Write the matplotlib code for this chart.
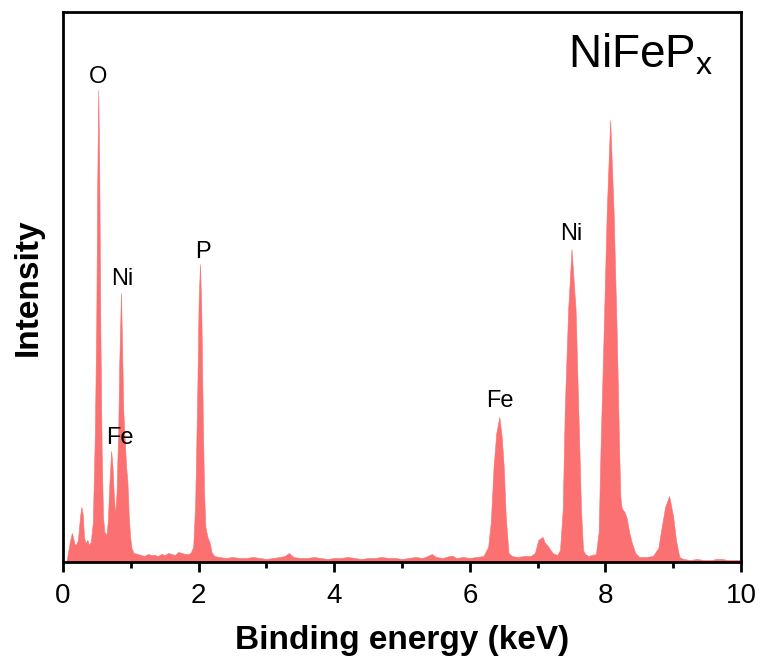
import matplotlib.pyplot as plt
import numpy as np

plt.rcParams['font.family'] = ['Liberation Sans', 'DejaVu Sans']
plt.rcParams['mathtext.fontset'] = 'custom'
plt.rcParams['mathtext.rm'] = 'Liberation Sans'

# EDS spectrum (keV, counts in arbitrary units)
energy = [0.05, 0.07, 0.10, 0.13, 0.15, 0.17, 0.19, 0.22, 0.25, 0.27, 0.29, 0.31, 0.33, 0.36, 0.38, 0.41,
          0.44, 0.47, 0.49, 0.505, 0.52, 0.535, 0.55, 0.57, 0.59, 0.61, 0.64, 0.66, 0.685, 0.71, 0.73,
          0.75, 0.77, 0.79, 0.815, 0.83, 0.855, 0.875, 0.89, 0.90, 0.93, 0.95, 0.97, 0.99, 1.01, 1.04,
          1.10, 1.15, 1.20, 1.25, 1.30, 1.35, 1.40, 1.45, 1.50, 1.55, 1.60, 1.65, 1.70, 1.75, 1.80, 1.85,
          1.88, 1.92, 1.95, 1.98, 2.00, 2.02, 2.04, 2.06, 2.08, 2.10, 2.13, 2.16, 2.19, 2.23,
          2.30, 2.40, 2.50, 2.60, 2.70, 2.80, 2.90, 3.00, 3.10, 3.20, 3.27, 3.33, 3.40, 3.50, 3.60, 3.70,
          3.80, 3.90, 4.00, 4.10, 4.20, 4.30, 4.40, 4.50, 4.60, 4.70, 4.80, 4.90, 5.00, 5.10, 5.20, 5.30,
          5.38, 5.44, 5.50, 5.60, 5.70, 5.75, 5.80, 5.90, 6.00, 6.10, 6.20,
          6.27, 6.31, 6.35, 6.39, 6.435, 6.47, 6.50, 6.53, 6.57, 6.62, 6.70, 6.80, 6.90,
          6.96, 7.01, 7.05, 7.075, 7.10, 7.16, 7.22, 7.29, 7.33, 7.37, 7.40, 7.45, 7.50, 7.56, 7.60,
          7.64, 7.67, 7.70, 7.75, 7.80, 7.86, 7.90, 7.93, 7.97, 8.02, 8.07, 8.12, 8.17, 8.20, 8.22,
          8.24, 8.28, 8.31, 8.35, 8.39, 8.44, 8.50, 8.60, 8.70, 8.78, 8.83, 8.88, 8.94, 9.00, 9.04,
          9.09, 9.15, 9.25, 9.35, 9.45, 9.56, 9.64, 9.72, 9.80, 9.90, 10.0]
counts = [0, 8, 20, 29, 24, 18, 17, 22, 45, 55, 48, 25, 19, 22, 17, 20,
          40, 130, 236, 380, 472, 390, 236, 110, 45, 30, 27, 40, 80, 111, 95,
          65, 48, 70, 135, 200, 269, 200, 150, 135, 96, 80, 45, 25, 14, 9,
          8, 7, 6, 8, 7, 7, 6, 8, 7, 9, 8, 7, 10, 9, 8, 8,
          9, 15, 60, 170, 260, 298, 250, 150, 70, 35, 25, 20, 10, 6,
          5, 4, 5, 4, 4, 5, 4, 3, 4, 5, 6, 9, 5, 4, 4, 5,
          4, 3, 4, 4, 5, 4, 3, 4, 4, 5, 4, 4, 3, 4, 5, 4,
          6, 8, 5, 4, 6, 6, 4, 5, 4, 5, 6,
          15, 40, 95, 129, 145, 125, 95, 45, 9, 6, 5, 6, 6,
          9, 22, 24, 25, 20, 15, 9, 7, 12, 52, 152, 252, 313, 252, 152,
          52, 12, 8, 6, 7, 8, 30, 119, 219, 352, 442, 352, 219, 119, 65,
          54, 50, 45, 30, 19, 9, 5, 5, 6, 14, 35, 55, 66, 45, 22,
          5, 3, 2, 3, 2, 2, 3, 3, 2, 2, 2]

peak_labels = ['O', 'Ni', 'Fe', 'P', 'Fe', 'Ni']
label_x = [0.516, 0.87, 0.84, 2.065, 6.445, 7.49]
label_y = [485, 283, 124, 310, 161, 328]

fig = plt.figure(figsize=(7.63, 6.68), dpi=100)
ax = fig.add_axes([0.0826, 0.1587, 0.8886, 0.8233])

ax.fill_between(energy, counts, 0, color='#fb7070', linewidth=0.4, edgecolor='#fb7070')

for t, x, y in zip(peak_labels, label_x, label_y):
    ax.text(x, y, t, fontsize=17, ha='center', va='center')

ax.text(7.45, 495, r'NiFeP$_\mathrm{x}$', fontsize=33, ha='left', va='baseline')

ax.set_xlim(0, 10)
ax.set_ylim(0, 550)
ax.set_xticks([0, 2, 4, 6, 8, 10])
ax.set_xticks([1, 3, 5, 7, 9], minor=True)
ax.set_yticks([])

for s in ax.spines.values():
    s.set_linewidth(2)

ax.tick_params(axis='x', which='major', direction='out', length=7, width=2, labelsize=20, pad=8)
ax.tick_params(axis='x', which='minor', direction='out', length=4, width=2)

ax.set_xlabel('Binding energy (keV)', fontsize=24, fontweight='bold', labelpad=12)
ax.set_ylabel('Intensity', fontsize=24, fontweight='bold', labelpad=14)

plt.savefig('out.png', dpi=100)
